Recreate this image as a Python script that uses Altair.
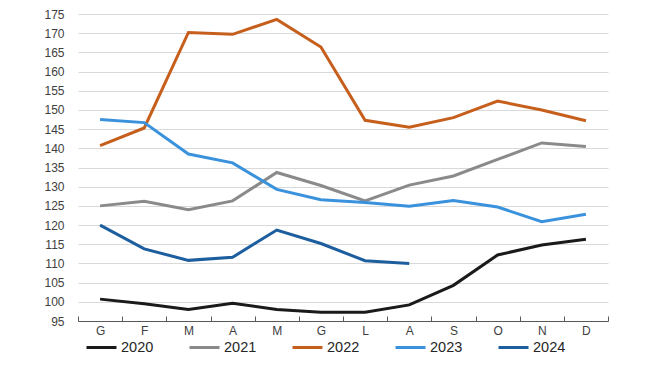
import altair as alt
import pandas as pd

months = ["G", "F", "M", "A", "M", "G", "L", "A", "S", "O", "N", "D"]
years = ["2020", "2021", "2022", "2023", "2024"]
colors = ["#1a1a1a", "#8a8a8a", "#c65f1c", "#3a92dd", "#1d5e9e"]

v2020 = [100.7, 99.5, 98.0, 99.6, 98.0, 97.3, 97.3, 99.2, 104.3, 112.2, 114.8, 116.3]
v2021 = [125.0, 126.2, 124.0, 126.3, 133.7, 130.3, 126.3, 130.4, 132.8, 137.1, 141.4, 140.5]
v2022 = [140.7, 145.3, 170.2, 169.7, 173.6, 166.4, 147.3, 145.5, 148.0, 152.3, 150.0, 147.2]
v2023 = [147.5, 146.7, 138.5, 136.2, 129.3, 126.6, 125.9, 124.9, 126.4, 124.7, 120.9, 122.8]
v2024 = [120.0, 113.8, 110.8, 111.6, 118.7, 115.2, 110.7, 110.0]

series = [v2020, v2021, v2022, v2023, v2024]
rows = []
for yr, vals in zip(years, series):
    for i, v in enumerate(vals):
        rows.append({"m": i + 1, "year": yr, "v": v})
df = pd.DataFrame(rows)

label_map = "{" + ",".join(f"'{i+1}':'{m}'" for i, m in enumerate(months)) + "}"

PLOT_W = 530
PLOT_H = 307

xscale = alt.Scale(domain=[0.5, 12.5], nice=False, zero=False)
yscale = alt.Scale(domain=[95, 175], nice=False, zero=False)

lines = alt.Chart(df).mark_line(strokeWidth=3).encode(
    x=alt.X("m:Q", scale=xscale,
            axis=alt.Axis(values=list(range(1, 13)),
                          labelExpr=f"{label_map}[datum.value]",
                          ticks=False, grid=False, domain=True,
                          domainColor="#595959", domainWidth=1,
                          labelFontSize=12, labelColor="#404040",
                          labelPadding=4, title=None)),
    y=alt.Y("v:Q", scale=yscale,
            axis=alt.Axis(values=list(range(95, 180, 5)), grid=True,
                          gridColor="#d9d9d9", gridWidth=1, domain=False,
                          ticks=False, labelFontSize=12, labelColor="#404040",
                          labelPadding=14, title=None)),
    color=alt.Color("year:N", scale=alt.Scale(domain=years, range=colors),
                    legend=alt.Legend(orient="none", legendX=7, legendY=317,
                                      direction="horizontal", title=None,
                                      symbolType="stroke", symbolSize=900,
                                      symbolStrokeWidth=3, labelFontSize=14.5,
                                      labelColor="#262626",
                                      columnPadding=29, labelOffset=3)),
    detail="year:N",
)

tick_layer = alt.Chart(df).mark_point(opacity=0).encode(
    x=alt.X("m:Q", scale=xscale,
            axis=alt.Axis(orient="top", offset=-PLOT_H,
                          values=[i + 0.5 for i in range(13)],
                          labels=False, domain=False, ticks=True,
                          tickSize=5, tickColor="#595959", grid=False,
                          title=None)),
)

chart = alt.layer(lines, tick_layer).resolve_axis(x="independent").properties(
    width=PLOT_W, height=PLOT_H,
    autosize=alt.AutoSizeParams(type="none"),
    padding={"left": 70, "top": 6, "right": 34, "bottom": 36},
).configure(font="Liberation Sans").configure_view(stroke=None)

chart.save("out.html", embed_options={"renderer": "svg", "actions": False})
